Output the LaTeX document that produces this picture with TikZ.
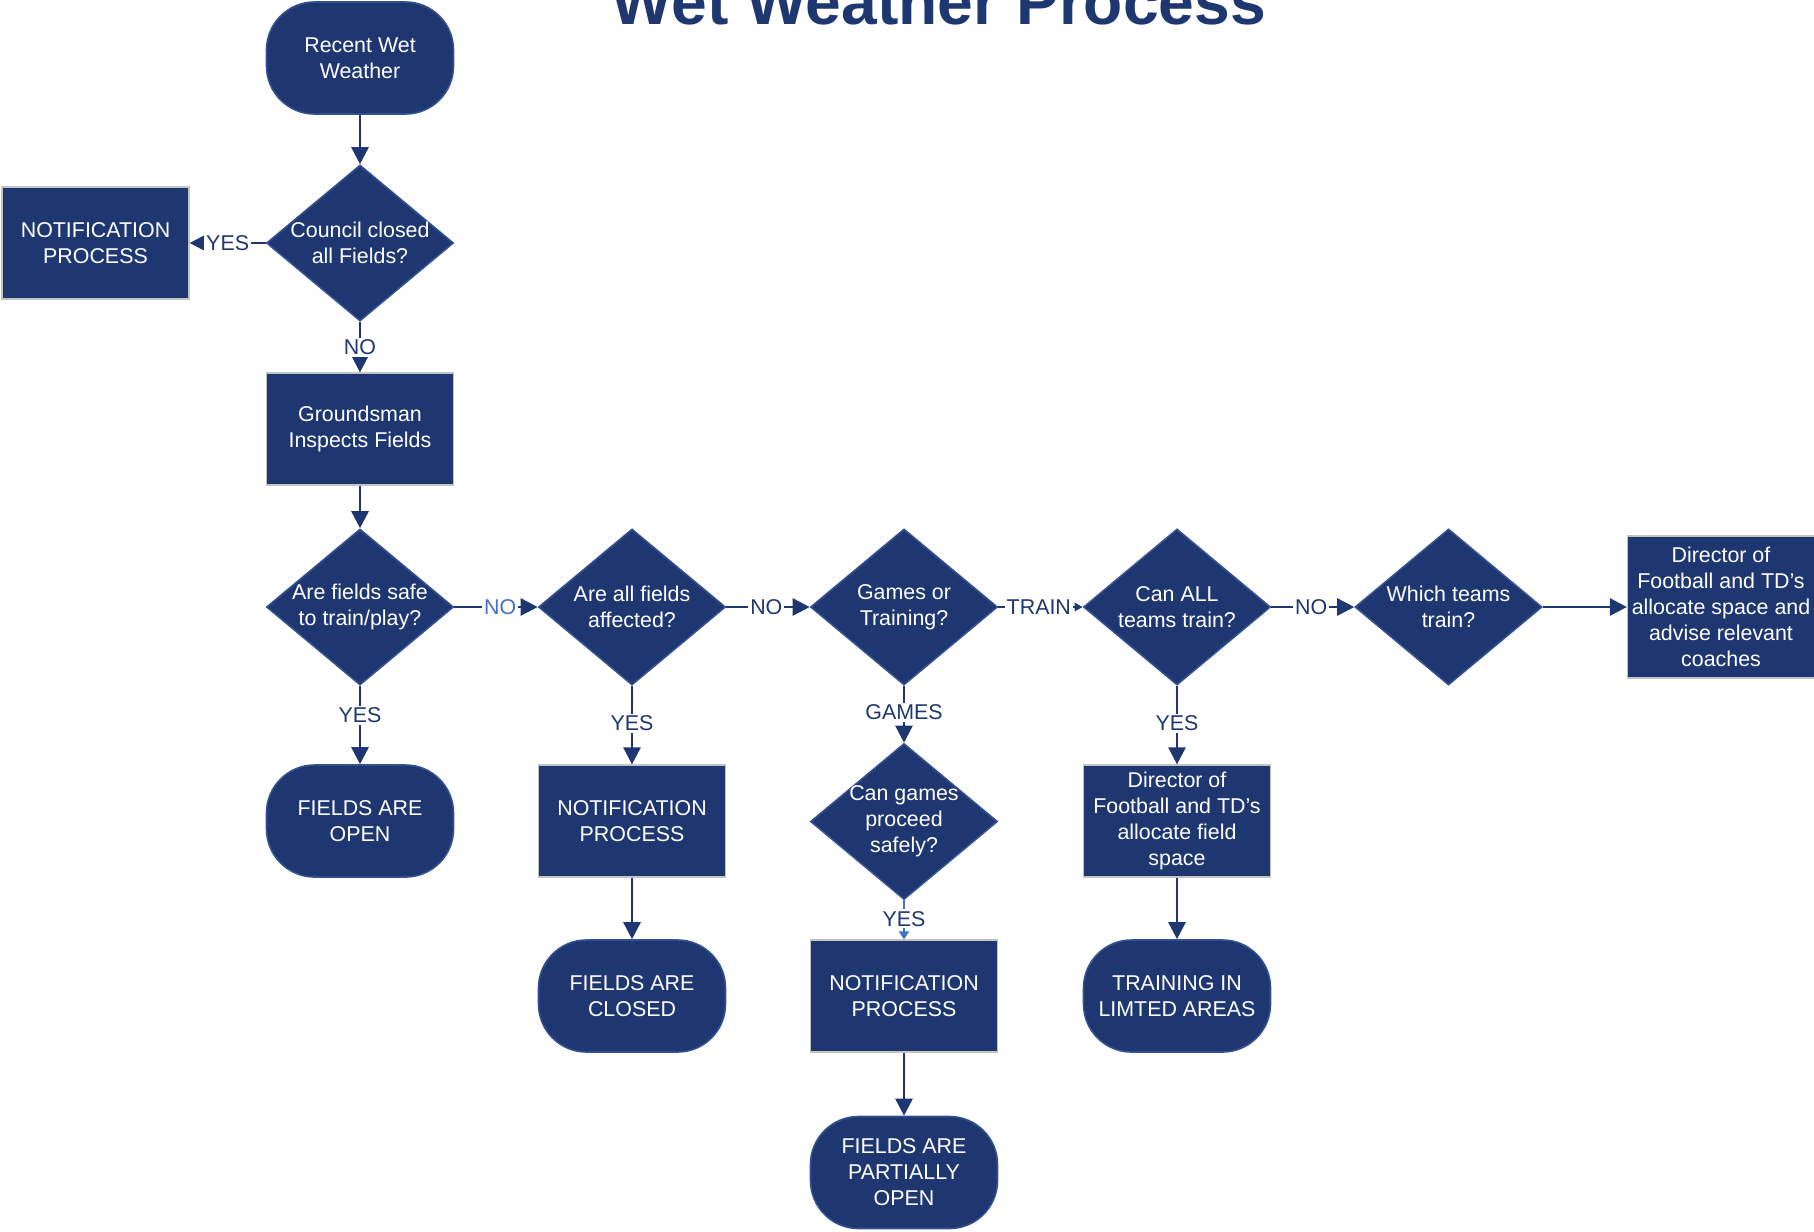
\documentclass[tikz,border=0pt]{standalone}
\usepackage{fontspec}
\setmainfont{Liberation Sans}
\usetikzlibrary{shapes.geometric,arrows.meta}
\definecolor{navy}{RGB}{31,55,112}
\definecolor{lblue}{RGB}{68,114,196}
\definecolor{dborder}{RGB}{52,80,142}
\definecolor{gborder}{RGB}{195,195,195}
\tikzset{
  txtfont/.style={font=\fontsize{10.7}{13}\selectfont},
  base/.style={fill=navy, text=white, txtfont, align=center, inner sep=0pt, minimum width=93.5pt},
  procbox/.style={base, rectangle, draw=gborder, line width=0.6pt, minimum height=56pt},
  termbox/.style={base, rectangle, rounded corners=24pt, draw=dborder, line width=0.8pt, minimum height=56pt},
  decision/.style={base, diamond, draw=dborder, line width=0.8pt, minimum width=93.5pt, minimum height=78pt},
  dlabel/.style={text=white, txtfont, align=center, inner sep=0pt},
  conn/.style={draw=navy, line width=1.3pt, -{Triangle[length=8.5pt,width=8.5pt]}},
  smallconn/.style={draw=navy, line width=1.3pt, -{Triangle[length=4pt,width=4pt]}},
  elabel/.style={fill=white, text=navy, txtfont, inner sep=1pt},
}
\begin{document}
\begin{tikzpicture}[x=0.5pt, y=-0.5pt]
\useasboundingbox (0,0) rectangle (1814,1231);
\node[font=\fontsize{32.1}{36}\selectfont\bfseries, text=navy, anchor=base, inner sep=0pt] (title) at (939,25) {Wet Weather Process};

% column 1
\node[termbox] (recent) at (360,58) {Recent Wet\\Weather};
\node[decision, label={[dlabel]center:Council closed\\all Fields?}] (council) at (360,243) {};
\node[procbox] (notif1) at (95.5,243) {NOTIFICATION\\PROCESS};
\node[procbox] (ground) at (360,429) {Groundsman\\Inspects Fields};
\node[decision, label={[dlabel]center:Are fields safe\\to train/play?}] (safe) at (360,607) {};
\node[termbox] (open) at (360,821) {FIELDS ARE\\OPEN};

% column 2
\node[decision, label={[dlabel]center:Are all fields\\affected?}] (allaff) at (632,607) {};
\node[procbox] (notif2) at (632,821) {NOTIFICATION\\PROCESS};
\node[termbox] (closed) at (632,996) {FIELDS ARE\\CLOSED};

% column 3
\node[decision, label={[dlabel]center:Games or\\Training?}] (games) at (904,607) {};
\node[decision, label={[dlabel]center:Can games\\proceed\\safely?}] (proceed) at (904,821.5) {};
\node[procbox] (notif3) at (904,996) {NOTIFICATION\\PROCESS};
\node[termbox] (partial) at (904,1172.5) {FIELDS ARE\\PARTIALLY\\OPEN};

% column 4
\node[decision, label={[dlabel]center:Can ALL\\teams train?}] (canall) at (1177,607) {};
\node[procbox] (dirfield) at (1177,821) {Director of\\Football and TD’s\\allocate field\\space};
\node[termbox] (limited) at (1177,996) {TRAINING IN\\LIMTED AREAS};

% column 5 and 6
\node[decision, label={[dlabel]center:Which teams\\train?}] (which) at (1448.5,607) {};
\node[procbox, minimum height=71pt] (dircoach) at (1721,607) {Director of\\Football and TD’s\\allocate space and\\advise relevant\\coaches};

% connectors
\draw[conn] (recent) -- (council);
\draw[conn] (council.west) -- node[elabel]{YES} (notif1.east);
\draw[conn] (council) -- node[elabel]{NO} (ground);
\draw[conn] (ground) -- (safe);
\draw[conn] (safe) -- node[elabel, pos=0.38]{YES} (open);
\draw[conn] (safe.east) -- node[elabel, text=lblue, pos=0.55]{NO} (allaff.west);
\draw[conn] (allaff) -- node[elabel, pos=0.48]{YES} (notif2);
\draw[conn] (notif2) -- (closed);
\draw[conn] (allaff.east) -- node[elabel, pos=0.48]{NO} (games.west);
\draw[conn] (games) -- node[elabel, pos=0.47]{GAMES} (proceed);
\draw[draw=lblue, line width=1pt, -{Triangle[length=4pt,width=5pt]}] (proceed) -- node[elabel, pos=0.47]{YES} (notif3);
\draw[conn] (notif3) -- (partial);
\draw[smallconn] (games.east) -- node[elabel, pos=0.48]{TRAIN} (canall.west);
\draw[conn] (canall) -- node[elabel, pos=0.48]{YES} (dirfield);
\draw[conn] (dirfield) -- (limited);
\draw[conn] (canall.east) -- node[elabel, pos=0.48]{NO} (which.west);
\draw[conn] (which.east) -- (dircoach.west);
\end{tikzpicture}
\end{document}
